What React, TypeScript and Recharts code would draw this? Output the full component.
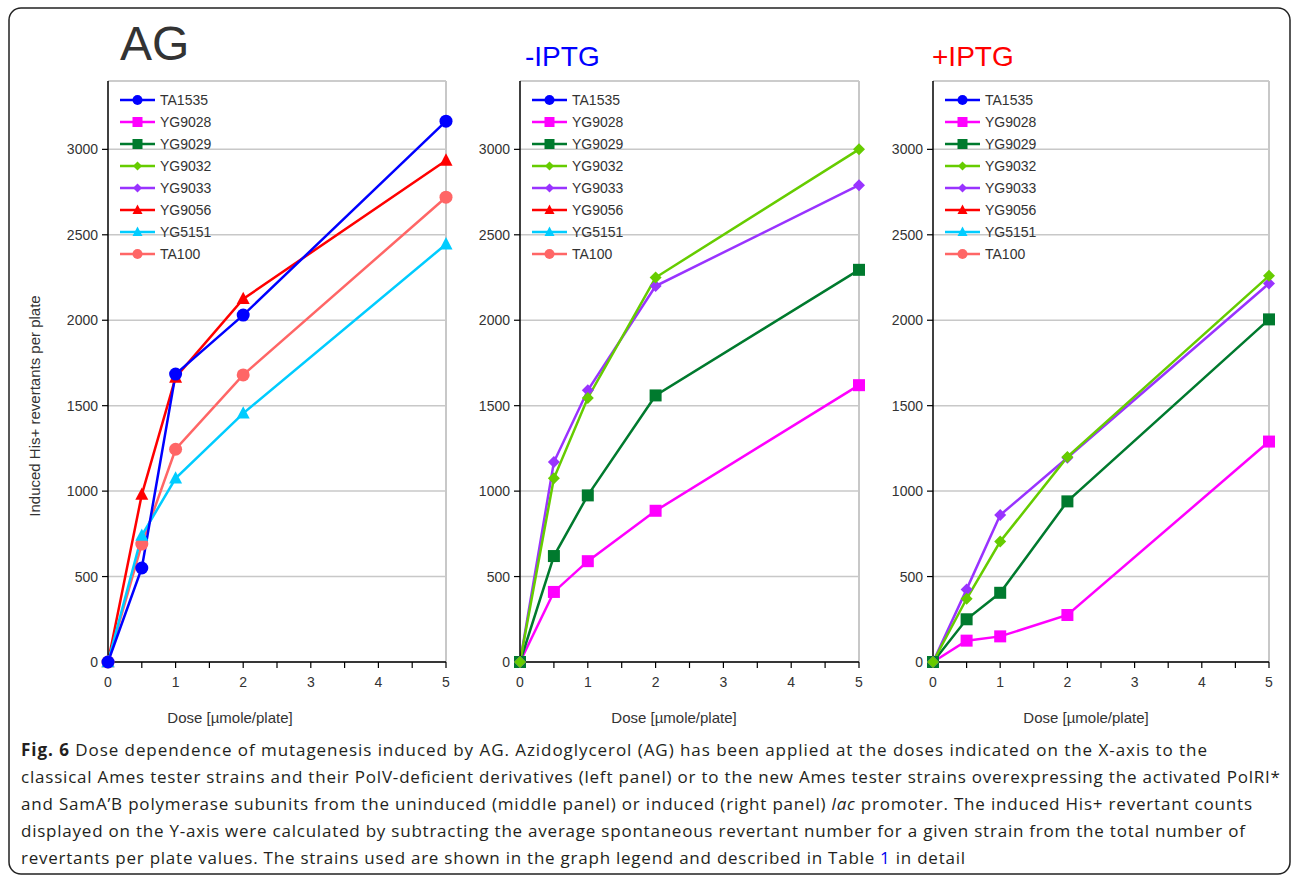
import React from 'react';
import { LineChart, Line, XAxis, YAxis, CartesianGrid, ReferenceLine } from 'recharts';

// doses on the x axis and axis tick labels
const doses = [0, 0.5, 1, 2, 5];
const xTicks = [0, 0.5, 1, 1.5, 2, 2.5, 3, 3.5, 4, 4.5, 5];
const yTicks = [0, 500, 1000, 1500, 2000, 2500, 3000];

// legend entries
const strains = ['TA1535', 'YG9028', 'YG9029', 'YG9032', 'YG9033', 'YG9056', 'YG5151', 'TA100'];
const strainColors = ['#0000FF', '#FF00FF', '#007A2E', '#66CC00', '#9933FF', '#FF0000', '#00CCFF', '#FF6666'];
const strainMarkers = ['circle', 'square', 'square', 'diamond', 'diamond', 'triangle', 'triangle', 'circle'];

// left panel: AG
const agTA1535 = [0, 550, 1685, 2030, 3165];
const agYG9056 = [0, 980, 1665, 2125, 2935];
const agYG5151 = [0, 740, 1075, 1455, 2445];
const agTA100 = [0, 690, 1245, 1680, 2720];

// middle panel: -IPTG
const minusYG9028 = [0, 410, 590, 885, 1620];
const minusYG9029 = [0, 620, 975, 1560, 2295];
const minusYG9033 = [0, 1170, 1590, 2200, 2790];
const minusYG9032 = [0, 1075, 1545, 2250, 3000];

// right panel: +IPTG
const plusYG9028 = [0, 125, 150, 275, 1290];
const plusYG9029 = [0, 250, 405, 940, 2005];
const plusYG9033 = [0, 425, 860, 1195, 2215];
const plusYG9032 = [0, 370, 705, 1200, 2260];

const FONT = '"Liberation Sans", Arial, sans-serif';
const TEXT = '#333333';

const buildRows = (series: [string, number[]][]) =>
  doses.map((d, i) => {
    const row: any = { dose: d };
    series.forEach(([name, vals]) => (row[name] = vals[i]));
    return row;
  });

const Marker = ({ shape, x, y, size, color }: any) => {
  const h = size / 2;
  if (shape === 'circle') return <circle cx={x} cy={y} r={h} fill={color} />;
  if (shape === 'square') return <rect x={x - h} y={y - h} width={size} height={size} fill={color} />;
  if (shape === 'diamond')
    return <polygon points={`${x},${y - h} ${x + h},${y} ${x},${y + h} ${x - h},${y}`} fill={color} />;
  return (
    <polygon
      points={`${x},${y - size * 0.55} ${x + h},${y + size * 0.4} ${x - h},${y + size * 0.4}`}
      fill={color}
    />
  );
};

const plotSize: any = { circle: 13, square: 12, diamond: 12, triangle: 13 };
const legendSize: any = { circle: 10, square: 10, diamond: 9, triangle: 10 };

const makeDot = (shape: string, color: string) => (props: any) => {
  const { cx, cy, index } = props;
  if (cx == null || cy == null) return <g key={index} />;
  return (
    <g key={index}>
      <Marker shape={shape} x={cx} y={cy} size={plotSize[shape]} color={color} />
    </g>
  );
};

const LegendBox = ({ left }: { left: number }) => (
  <svg
    width={120}
    height={180}
    style={{ position: 'absolute', left: left + 12, top: 89, pointerEvents: 'none' }}
  >
    {strains.map((s, i) => {
      const cy = 11 + i * 22;
      return (
        <g key={s}>
          <line x1={0} x2={35} y1={cy} y2={cy} stroke={strainColors[i]} strokeWidth={2.5} />
          <Marker shape={strainMarkers[i]} x={17.5} y={cy} size={legendSize[strainMarkers[i]]} color={strainColors[i]} />
          <text x={40} y={cy + 5} fontSize={14} fontFamily={FONT} fill={TEXT}>
            {s}
          </text>
        </g>
      );
    })}
  </svg>
);

const Panel = ({ left, right, series }: { left: number; right: number; series: [string, number[]][] }) => {
  const data = buildRows(series);
  const plotW = right - left;
  return (
    <>
      <div style={{ position: 'absolute', left: left - 60, top: 71 }}>
        <LineChart width={plotW + 70} height={631} data={data} margin={{ top: 10, right: 10, bottom: 0, left: 0 }}>
          <CartesianGrid vertical={false} stroke="#c8c8c8" strokeWidth={1.5} />
          <ReferenceLine y={3400} stroke="#c8c8c8" strokeWidth={1.5} />
          <ReferenceLine x={5} stroke="#c8c8c8" strokeWidth={2} />
          <XAxis
            type="number"
            dataKey="dose"
            domain={[0, 5]}
            ticks={xTicks}
            interval={0}
            tickFormatter={(v: number) => (Number.isInteger(v) ? String(v) : '')}
            height={40}
            tickSize={6}
            tickMargin={9}
            axisLine={{ stroke: '#000', strokeWidth: 1.5 }}
            tickLine={{ stroke: '#000', strokeWidth: 1.2 }}
            tick={{ fill: TEXT, fontSize: 14, fontFamily: FONT }}
          />
          <YAxis
            type="number"
            domain={[0, 3400]}
            ticks={yTicks}
            interval={0}
            width={60}
            tickSize={6}
            tickMargin={4}
            axisLine={{ stroke: '#000', strokeWidth: 1.5 }}
            tickLine={{ stroke: '#000', strokeWidth: 1.2 }}
            tick={{ fill: TEXT, fontSize: 14, fontFamily: FONT }}
          />
          {series.map(([name]) => {
            const i = strains.indexOf(name);
            return (
              <Line
                key={name}
                type="linear"
                dataKey={name}
                stroke={strainColors[i]}
                strokeWidth={2.5}
                dot={makeDot(strainMarkers[i], strainColors[i])}
                activeDot={false}
                isAnimationActive={false}
              />
            );
          })}
        </LineChart>
      </div>
      <LegendBox left={left} />
    </>
  );
};

const captionEnds = [1207, 1280, 1252, 1245, 965];

export default function App() {
  const capX = 21;
  const capBase = [756, 783, 810, 837, 864];
  const capFont = '"Open Sans", "Noto Sans", sans-serif';
  return (
    <div style={{ position: 'absolute', left: 0, top: 0, width: 1292, height: 879, background: '#fff' }}>
      <svg width={1292} height={879} style={{ position: 'absolute', left: 0, top: 0 }}>
        <rect x={9} y={8} width={1281} height={866} rx={12} fill="none" stroke="#222" strokeWidth={1.5} />
        <text x={120} y={60} fontSize={48} fontFamily={FONT} fill={TEXT}>AG</text>
        <text x={525} y={66} fontSize={28} fontFamily={FONT} fill="#0000FF">-IPTG</text>
        <text x={932} y={66} fontSize={28} fontFamily={FONT} fill="#FF0000">+IPTG</text>
        <text
          x={40}
          y={406}
          fontSize={15}
          fontFamily={FONT}
          fill={TEXT}
          textAnchor="middle"
          transform="rotate(-90, 40, 406)"
        >
          Induced His+ revertants per plate
        </text>
        {[230, 674, 1086].map((cx) => (
          <text key={cx} x={cx} y={723} fontSize={15} fontFamily={FONT} fill={TEXT} textAnchor="middle">
            Dose [µmole/plate]
          </text>
        ))}
        <g fontFamily={capFont} fontSize={17} fill="#231f20">
          <text x={capX} y={capBase[0]} textLength={captionEnds[0] - capX} lengthAdjust="spacing">
            <tspan fontWeight="bold">Fig. 6</tspan> Dose dependence of mutagenesis induced by AG. Azidoglycerol (AG) has been applied at the doses indicated on the X-axis to the
          </text>
          <text x={capX} y={capBase[1]} textLength={captionEnds[1] - capX} lengthAdjust="spacing">
            classical Ames tester strains and their PolV-deficient derivatives (left panel) or to the new Ames tester strains overexpressing the activated PolRI*
          </text>
          <text x={capX} y={capBase[2]} textLength={captionEnds[2] - capX} lengthAdjust="spacing">
            and SamA’B polymerase subunits from the uninduced (middle panel) or induced (right panel) <tspan fontStyle="italic">lac</tspan> promoter. The induced His+ revertant counts
          </text>
          <text x={capX} y={capBase[3]} textLength={captionEnds[3] - capX} lengthAdjust="spacing">
            displayed on the Y-axis were calculated by subtracting the average spontaneous revertant number for a given strain from the total number of
          </text>
          <text x={capX} y={capBase[4]} textLength={captionEnds[4] - capX} lengthAdjust="spacing">
            revertants per plate values. The strains used are shown in the graph legend and described in Table <tspan fill="#0000EE">1</tspan> in detail
          </text>
        </g>
      </svg>
      <Panel left={108} right={446} series={[['YG9056', agYG9056], ['TA100', agTA100], ['YG5151', agYG5151], ['TA1535', agTA1535]]} />
      <Panel left={520} right={859} series={[['YG9028', minusYG9028], ['YG9029', minusYG9029], ['YG9033', minusYG9033], ['YG9032', minusYG9032]]} />
      <Panel left={933} right={1269} series={[['YG9028', plusYG9028], ['YG9029', plusYG9029], ['YG9033', plusYG9033], ['YG9032', plusYG9032]]} />
    </div>
  );
}
